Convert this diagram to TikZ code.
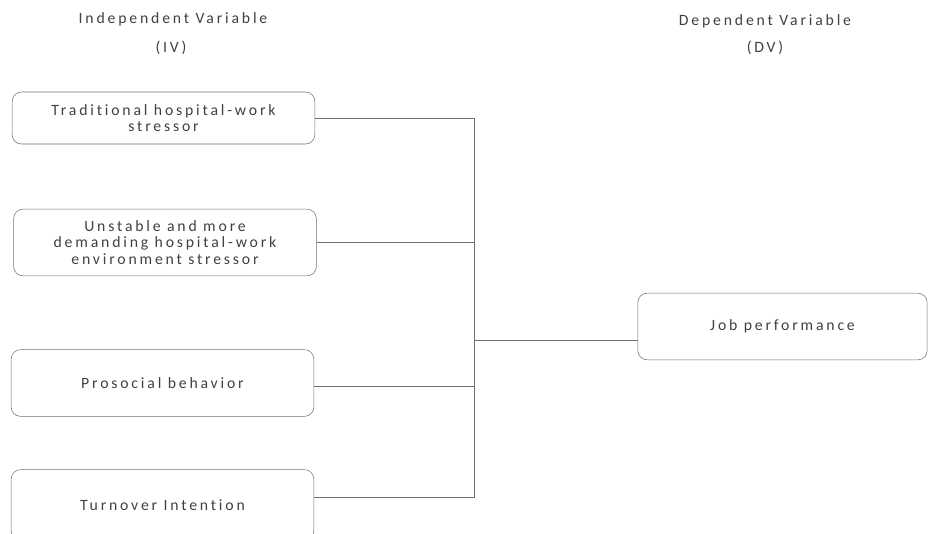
\documentclass[tikz,border=0pt]{standalone}
\usepackage{fontspec}
\setmainfont{Carlito}[LetterSpace=18,Ligatures={NoCommon,NoRare}]
\usetikzlibrary{positioning}
\definecolor{inkgray}{HTML}{404040}
\definecolor{linegray}{HTML}{707070}
\tikzset{
  varbox/.style={draw=linegray, rounded corners=7pt, minimum width=227pt, align=center,
    text=inkgray, font=\fontsize{11.8}{12.5}\selectfont},
  heading/.style={text=inkgray, font=\fontsize{11.8}{12.5}\selectfont},
  link/.style={draw=linegray, line width=0.5pt}
}

\begin{document}
\begin{tikzpicture}[x=0.75pt,y=-0.75pt]
\useasboundingbox (0,0) rectangle (929,533);
% headings
\node[heading] (ivtitle) at (173,19) {Independent Variable};
\node[heading] (ivabbr) at (171,48) {(IV)};
\node[heading] (dvtitle) at (765,21) {Dependent Variable};
\node[heading] (dvabbr) at (765,48) {(DV)};
% independent variables
\node[varbox, minimum height=39pt] (trad) at (163.5,118) {Traditional hospital-work\\stressor};
\node[varbox, minimum height=50pt] (unstable) at (165,242.5) {Unstable and more\\demanding hospital-work\\environment stressor};
\node[varbox, minimum height=50pt] (prosocial) at (162.5,383) {Prosocial behavior};
\node[varbox, minimum height=53pt] (turnover) at (162.5,505) {Turnover Intention};
% dependent variable
\node[varbox, minimum width=217pt, minimum height=50pt] (job) at (782.5,326.5) {Job performance};
% connectors
\coordinate (bus) at (474,340);
\draw[link] (trad.east) -| (bus);
\draw[link] (turnover.east |- 0,497) -| (bus);
\draw[link] (unstable.east) -- (unstable.east -| bus);
\draw[link] (prosocial.east |- 0,386) -- (bus |- 0,386);
\draw[link] (bus) -- (job.west |- bus);
\end{tikzpicture}
\end{document}
